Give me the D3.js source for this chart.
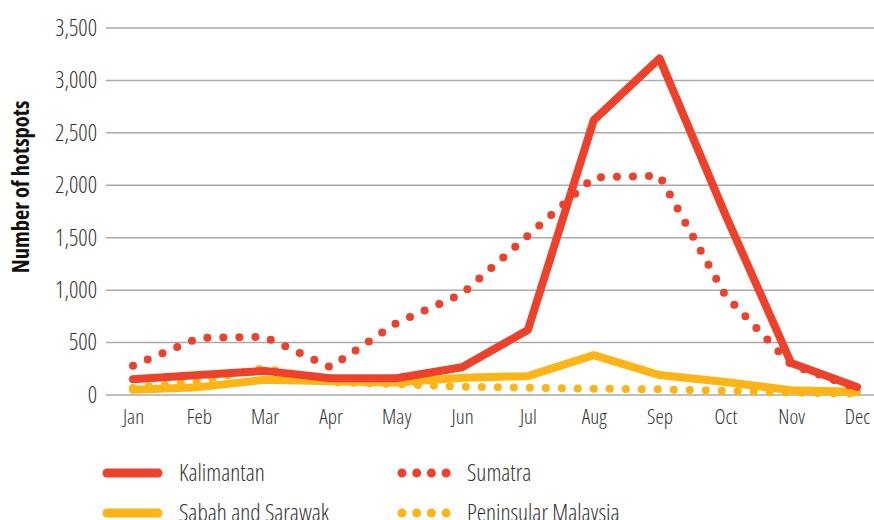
<!DOCTYPE html>
<html>
<head>
<meta charset="utf-8">
<script src="https://cdn.jsdelivr.net/npm/d3@7"></script>
<style>
  body { margin: 0; background: #fff; }
  text { font-family: "Open Sans", sans-serif; font-stretch: 75%; font-weight: 300; fill: #333; }
</style>
</head>
<body>
<div id="chart"></div>
<script>
// Data
const months = ["Jan", "Feb", "Mar", "Apr", "May", "Jun", "Jul", "Aug", "Sep", "Oct", "Nov", "Dec"];
const kalimantan = [150, 190, 230, 160, 160, 265, 620, 2620, 3210, 1720, 305, 76];
const sumatra = [280, 545, 555, 265, 685, 965, 1520, 2075, 2090, 950, 290, 65];
const sabahSarawak = [50, 75, 145, 130, 120, 165, 180, 380, 190, 124, 45, 30];
const peninsular = [67, 133, 257, 124, 105, 79, 70, 60, 54, 41, 22, 14];
const yTicks = [0, 500, 1000, 1500, 2000, 2500, 3000, 3500];

const red = "#ee412b";
const yellow = "#fdb515";

const series = [
    { name: "Kalimantan", values: kalimantan, color: red, dotted: false },
    { name: "Sumatra", values: sumatra, color: red, dotted: true },
    { name: "Sabah and Sarawak", values: sabahSarawak, color: yellow, dotted: false },
    { name: "Peninsular Malaysia", values: peninsular, color: yellow, dotted: true },
];

const W = 874, H = 520;
const svg = d3.select("#chart").append("svg").attr("width", W).attr("height", H);

// scales
const x = d3.scalePoint().domain(months).range([133, 857]);
const y = d3.scaleLinear().domain([0, 3500]).range([395, 28]);

// gridlines
svg.append("g")
    .selectAll("line")
    .data(yTicks)
    .enter()
    .append("line")
    .attr("x1", 106)
    .attr("x2", W)
    .attr("y1", (d) => y(d))
    .attr("y2", (d) => y(d))
    .attr("stroke", "#aaa")
    .attr("stroke-width", 1.5);

// y axis labels
const yAxis = svg.append("g")
    .attr("transform", "translate(97,0)")
    .call(d3.axisLeft(y).tickValues(yTicks).tickSize(0).tickPadding(0).tickFormat(d3.format(",")));
yAxis.select(".domain").remove();
yAxis.selectAll("text")
    .style("font-size", "23px")
    .attr("fill", "#333");

// x axis labels
const xAxis = svg.append("g")
    .attr("transform", "translate(0,409)")
    .call(d3.axisBottom(x).tickSize(0).tickPadding(0));
xAxis.select(".domain").remove();
xAxis.selectAll("text")
    .attr("dy", "0.71em")
    .style("font-size", "21px")
    .attr("fill", "#333");
svg.selectAll("g").attr("font-family", null).attr("font-size", null);

// y axis title
svg.append("text")
    .attr("transform", "translate(29,187) rotate(-90)")
    .attr("text-anchor", "middle")
    .style("font-size", "22.5px")
    .style("font-weight", "700")
    .style("fill", "#111")
    .text("Number of hotspots");

// lines
const line = d3.line()
    .x((d, i) => x(months[i]))
    .y((d) => y(d));

// draw order: solid yellow, dotted yellow, dotted red, solid red
const drawOrder = [series[2], series[3], series[1], series[0]];
svg.append("g")
    .selectAll("path")
    .data(drawOrder)
    .enter()
    .append("path")
    .attr("d", (d) => line(d.values))
    .attr("fill", "none")
    .attr("stroke", (d) => d.color)
    .attr("stroke-width", 8)
    .attr("stroke-linecap", "round")
    .attr("stroke-linejoin", "round")
    .attr("stroke-dasharray", (d) => (d.dotted ? "0,16" : null));

// legend
const legendPos = [
    { lx: 107, tx: 179, ly: 473 },
    { lx: 402, tx: 467, ly: 473 },
    { lx: 107, tx: 179, ly: 513 },
    { lx: 402, tx: 467, ly: 513 },
];
const legend = svg.append("g")
    .selectAll("g")
    .data(series)
    .enter()
    .append("g")
    .attr("transform", (d, i) => `translate(0,${legendPos[i].ly})`);

legend.append("line")
    .attr("x1", (d, i) => legendPos[i].lx)
    .attr("x2", (d, i) => (d.dotted ? legendPos[i].lx + 45 : legendPos[i].lx + 51))
    .attr("y1", 0)
    .attr("y2", 0)
    .attr("stroke", (d) => d.color)
    .attr("stroke-width", 9)
    .attr("stroke-linecap", "round")
    .attr("stroke-dasharray", (d) => (d.dotted ? "0,14.7" : null));

legend.append("text")
    .attr("x", (d, i) => legendPos[i].tx)
    .attr("y", 8)
    .style("font-size", "23.5px")
    .style("fill", "#333")
    .text((d) => d.name);
</script>
</body>
</html>
